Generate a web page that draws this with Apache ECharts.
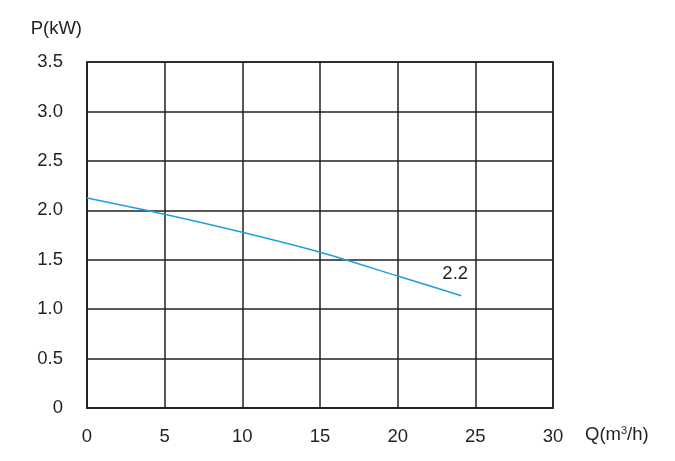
<!DOCTYPE html>
<html>
<head>
<meta charset="utf-8">
<script src="https://cdn.jsdelivr.net/npm/echarts@6/dist/echarts.min.js"></script>
<style>
  html, body { margin: 0; padding: 0; background: #fff; }
  #chart { width: 675px; height: 461px; }
</style>
</head>
<body>
<div id="chart"></div>
<script>
// flow Q (m3/h) vs power P (kW), curve for the 2.2 model
const flowQ = [0, 5, 10, 15, 20, 24.1];
const powerP = [2.125, 1.96, 1.777, 1.575, 1.335, 1.135];
const curveName = "2.2";

const ink = "#231f20";
const font = "Liberation Sans, Arial, sans-serif";
const fs = 18.5;

const chart = echarts.init(document.getElementById("chart"));

chart.setOption({
  animation: false,
  grid: {
    left: 87, right: 122, top: 62, bottom: 53,
    show: true, borderColor: ink, borderWidth: 1.5
  },
  xAxis: {
    type: "value",
    min: 0, max: 30, interval: 5,
    name: "{a|Q(m}{s|3}{a|/h)}",
    nameLocation: "end",
    nameGap: 32,
    nameTextStyle: {
      verticalAlign: "top",
      align: "left",
      padding: [17, 0, 0, 0],
      rich: {
        a: { fontSize: fs, color: ink, fontFamily: font },
        s: { fontSize: 11, color: ink, fontFamily: font, verticalAlign: "top", padding: [0, 0, 8, 0] }
      }
    },
    axisLine: { show: true, lineStyle: { color: ink, width: 1.5 } },
    axisTick: { show: false },
    axisLabel: { color: ink, fontSize: fs, fontFamily: font, margin: 19 },
    splitLine: { show: true, lineStyle: { color: ink, width: 1.5 } }
  },
  yAxis: {
    type: "value",
    min: 0, max: 3.5, interval: 0.5,
    name: "P(kW)",
    nameLocation: "end",
    nameGap: 24,
    nameTextStyle: {
      color: ink, fontSize: fs, fontFamily: font,
      align: "right", padding: [0, 5, 0, 0]
    },
    axisLine: { show: true, lineStyle: { color: ink, width: 1.5 } },
    axisTick: { show: false },
    axisLabel: {
      color: ink, fontSize: fs, fontFamily: font, margin: 24,
      formatter: v => (v === 0 ? "0" : v.toFixed(1))
    },
    splitLine: { show: true, lineStyle: { color: ink, width: 1.5 } }
  },
  series: [{
    name: curveName,
    type: "line",
    smooth: 0.3,
    symbol: "none",
    lineStyle: { color: "#1ea0dc", width: 1.5 },
    endLabel: {
      show: true,
      formatter: curveName,
      color: ink, fontSize: fs, fontFamily: font,
      offset: [-27, -22]
    },
    data: flowQ.map((q, i) => [q, powerP[i]])
  }]
});
</script>
</body>
</html>
